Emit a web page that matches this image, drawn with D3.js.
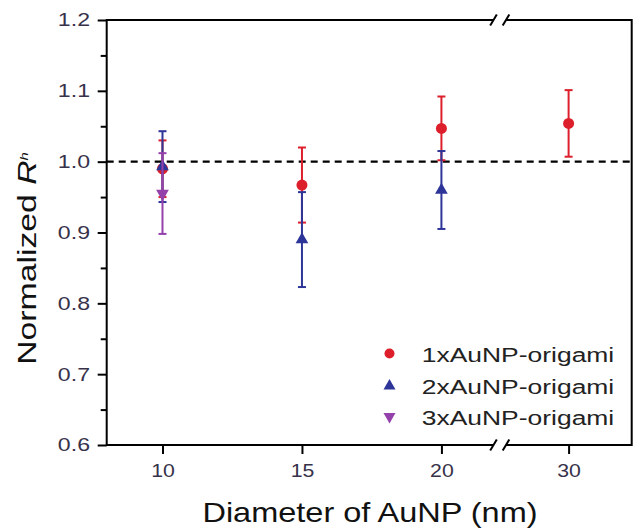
<!DOCTYPE html>
<html>
<head>
<meta charset="utf-8">
<script src="https://cdn.jsdelivr.net/npm/d3@7"></script>
<style>
  html, body { margin: 0; padding: 0; background: #fff; }
  svg { display: block; font-family: "Liberation Sans", Arial, sans-serif; }
</style>
</head>
<body>
<svg id="chart" width="633" height="529"></svg>
<script>
// ---- data ----
const xTicks = [10, 15, 20, 30];
const yTicks = [0.6, 0.7, 0.8, 0.9, 1.0, 1.1, 1.2];
const yMinorTicks = [0.65, 0.75, 0.85, 0.95, 1.05, 1.15];
const referenceLevel = 1.0;

const series1Name = "1xAuNP-origami";
const series1X = [10, 15, 20, 30];
const series1Y = [0.99, 0.967, 1.047, 1.054];
const series1Err = [0.04, 0.053, 0.045, 0.047];

const series2Name = "2xAuNP-origami";
const series2X = [10, 15, 20];
const series2Y = [0.993, 0.89, 0.96];
const series2Err = [0.05, 0.067, 0.055];

const series3Name = "3xAuNP-origami";
const series3X = [10];
const series3Y = [0.955];
const series3Err = [0.057];

const xTitle = "Diameter of AuNP (nm)";

// ---- layout ----
const svg = d3.select("#chart");
const L = 106.7, R = 631.7, T = 20, B = 445, BRK = 500;

// broken x axis: two linear segments joined at the break
const x = d3.scaleLinear().domain([8, 22.1, 27.5, 32.3]).range([L, BRK, BRK, R]);
const y = d3.scaleLinear().domain([0.6, 1.2]).range([B, T]);

const series = [
  { name: series1Name, xs: series1X, ys: series1Y, es: series1Err, color: "#dc1f2b", shape: "circle" },
  { name: series2Name, xs: series2X, ys: series2Y, es: series2Err, color: "#2d3598", shape: "up" },
  { name: series3Name, xs: series3X, ys: series3Y, es: series3Err, color: "#9441ab", shape: "down" }
];

// ---- frame ----
const frame = svg.append("g").attr("stroke", "#000").attr("stroke-width", 2).attr("fill", "none");
frame.append("line").attr("x1", L).attr("x2", L).attr("y1", T - 1).attr("y2", B + 1);
frame.append("line").attr("x1", R).attr("x2", R).attr("y1", T - 1).attr("y2", B + 1);
[T, B].forEach(yy => {
  frame.append("line").attr("x1", L).attr("x2", BRK - 6).attr("y1", yy).attr("y2", yy);
  frame.append("line").attr("x1", BRK + 6).attr("x2", R).attr("y1", yy).attr("y2", yy);
  [-6.5, 6].forEach(off => {
    frame.append("line")
      .attr("x1", BRK + off - 3.3).attr("y1", yy + 5.5)
      .attr("x2", BRK + off + 3.3).attr("y2", yy - 5.5);
  });
});

// ---- axes ----
const tickColor = "#37324a";
const ySx = 1.25;
const yAxis = svg.append("g").attr("transform", `translate(${L},0)`)
  .call(d3.axisLeft(y).tickValues(yTicks).tickSize(9).tickPadding(7.7).tickFormat(d3.format(".1f")));
yAxis.select(".domain").remove();
yAxis.selectAll("line").attr("stroke", "#000").attr("stroke-width", 2);
yAxis.selectAll("text")
  .attr("font-size", 18.5).attr("fill", tickColor)
  .attr("x", -16.7 / ySx).attr("transform", `scale(${ySx},1)`);

const yMinor = svg.append("g").attr("transform", `translate(${L},0)`)
  .call(d3.axisLeft(y).tickValues(yMinorTicks).tickSize(6).tickFormat(""));
yMinor.select(".domain").remove();
yMinor.selectAll("line").attr("stroke", "#000").attr("stroke-width", 2);

const xAxis = svg.append("g").attr("transform", `translate(0,${B})`)
  .call(d3.axisBottom(x).tickValues(xTicks).tickSize(9).tickPadding(10).tickFormat(d3.format("d")));
xAxis.select(".domain").remove();
xAxis.selectAll("line").attr("stroke", "#000").attr("stroke-width", 2);
xAxis.selectAll("text")
  .attr("font-size", 19).attr("fill", tickColor)
  .attr("transform", "scale(1.12,1)");

// ---- titles ----
svg.append("text")
  .attr("transform", `translate(370,522) scale(1.14,1)`)
  .attr("text-anchor", "middle").attr("font-size", 28.5).attr("fill", "#111")
  .text(xTitle);

const yt = svg.append("text")
  .attr("transform", `translate(36,258.5) rotate(-90) scale(1.35,1)`)
  .attr("text-anchor", "middle").attr("font-size", 25).attr("fill", "#111");
yt.append("tspan").text("Normalized ");
yt.append("tspan").attr("font-style", "italic").text("R");
yt.append("tspan").attr("font-style", "italic").attr("font-size", 11).attr("dy", -8).text("h");

// ---- reference line ----
svg.append("line")
  .attr("x1", L).attr("x2", R)
  .attr("y1", y(referenceLevel)).attr("y2", y(referenceLevel))
  .attr("stroke", "#000").attr("stroke-width", 2.3).attr("stroke-dasharray", "7,5");

// ---- markers ----
function marker(sel, shape, color, size) {
  if (shape === "circle") {
    sel.append("circle").attr("r", size.r).attr("fill", color);
  } else {
    sel.append("path")
      .attr("d", d3.symbol().type(d3.symbolTriangle).size(size.tri)())
      .attr("transform", shape === "down" ? "rotate(180)" : null)
      .attr("fill", color);
  }
}

series.forEach(s => {
  const g = svg.append("g");
  s.xs.forEach((xv, i) => {
    const cx = x(xv), y0 = y(s.ys[i] - s.es[i]), y1 = y(s.ys[i] + s.es[i]);
    const eg = g.append("g").attr("stroke", s.color).attr("stroke-width", 2);
    eg.append("line").attr("x1", cx).attr("x2", cx).attr("y1", y0).attr("y2", y1);
    eg.append("line").attr("x1", cx - 4).attr("x2", cx + 4).attr("y1", y0).attr("y2", y0);
    eg.append("line").attr("x1", cx - 4).attr("x2", cx + 4).attr("y1", y1).attr("y2", y1);
    const mg = g.append("g").attr("transform", `translate(${cx},${y(s.ys[i])})`);
    marker(mg, s.shape, s.color, { r: 5.5, tri: 70 });
  });
});

// ---- legend ----
const legendBase = [361.5, 394, 424.5];
series.forEach((s, i) => {
  const mg = svg.append("g").attr("transform", `translate(389.5,${legendBase[i] - 8})`);
  marker(mg, s.shape, s.color, { r: 5, tri: 62 });
  svg.append("text")
    .attr("transform", `translate(421.7,${legendBase[i]}) scale(1.26,1)`)
    .attr("font-size", 21).attr("fill", "#222")
    .text(s.name);
});
</script>
</body>
</html>
